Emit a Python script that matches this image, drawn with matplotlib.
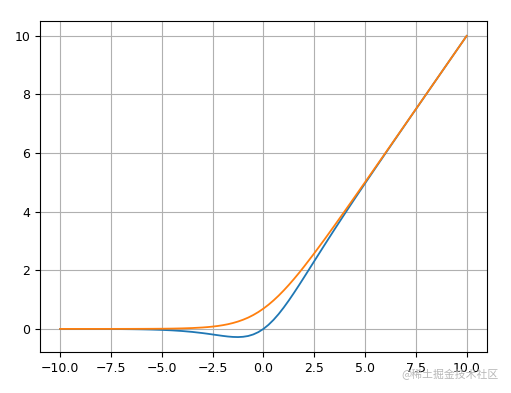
import matplotlib
matplotlib.use("Agg")
import matplotlib.pyplot as plt

plt.rcParams["font.family"] = ["DejaVu Sans", "Noto Sans CJK SC"]

x_values = [-10, -9.5, -9, -8.5, -8, -7.5, -7, -6.5, -6, -5.5, -5, -4.5, -4, -3.5,
            -3, -2.75, -2.5, -2.25, -2, -1.75, -1.5, -1.25, -1, -0.75, -0.5, -0.25,
            0, 0.25, 0.5, 0.75, 1, 1.25, 1.5, 1.75, 2, 2.5, 3, 3.5, 4, 4.5, 5,
            5.5, 6, 6.5, 7, 7.5, 8, 8.5, 9, 9.5, 10]

blue_values = [-0.0005, -0.0007, -0.0011, -0.0017, -0.0027, -0.0041, -0.0064,
               -0.0098, -0.0148, -0.0224, -0.0335, -0.0495, -0.072, -0.1026,
               -0.1423, -0.165, -0.1896, -0.2142, -0.2384, -0.2594, -0.2736,
               -0.2784, -0.2689, -0.2414, -0.1888, -0.1094,
               0.0, 0.1406, 0.3112, 0.5086, 0.7311, 0.9716, 1.2264, 1.4906,
               1.7616, 2.3104, 2.8577, 3.3974, 3.928, 4.4505, 4.9665,
               5.4776, 5.9852, 6.4902, 6.9936, 7.4959, 7.9973, 8.4983, 8.999,
               9.4993, 9.9995]

orange_values = [0.0000, 0.0001, 0.0001, 0.0002, 0.0003, 0.0006, 0.0009, 0.0015,
                 0.0025, 0.0041, 0.0067, 0.011, 0.0181, 0.0298,
                 0.0486, 0.062, 0.0789, 0.0999, 0.1269, 0.1599, 0.2014,
                 0.2519, 0.3133, 0.3864, 0.4741, 0.5759,
                 0.6931, 0.8259, 0.9741, 1.1364, 1.3133, 1.5019, 1.7014, 1.9099,
                 2.1269, 2.5789, 3.0486, 3.5298, 4.0181, 4.511, 5.0067,
                 5.5041, 6.0025, 6.5015, 7.0009, 7.5006, 8.0003, 8.5002, 9.0001,
                 9.5001, 10.0]

fig = plt.figure(figsize=(5.11, 3.93), dpi=100)
ax = fig.add_axes([0.078, 0.104, 0.875, 0.843])
ax.plot(x_values, blue_values, color="#1f77b4", linewidth=1.3)
ax.plot(x_values, orange_values, color="#ff7f0e", linewidth=1.3)
ax.grid(True)
ax.tick_params(labelsize=9)

fig.text(0.975, 0.046, "@稀土掘金技术社区", ha="right", va="center",
         fontsize=7.8, color="#b8b8b8", family=["Noto Sans CJK SC", "DejaVu Sans"])

fig.savefig("out.png", dpi=100)
